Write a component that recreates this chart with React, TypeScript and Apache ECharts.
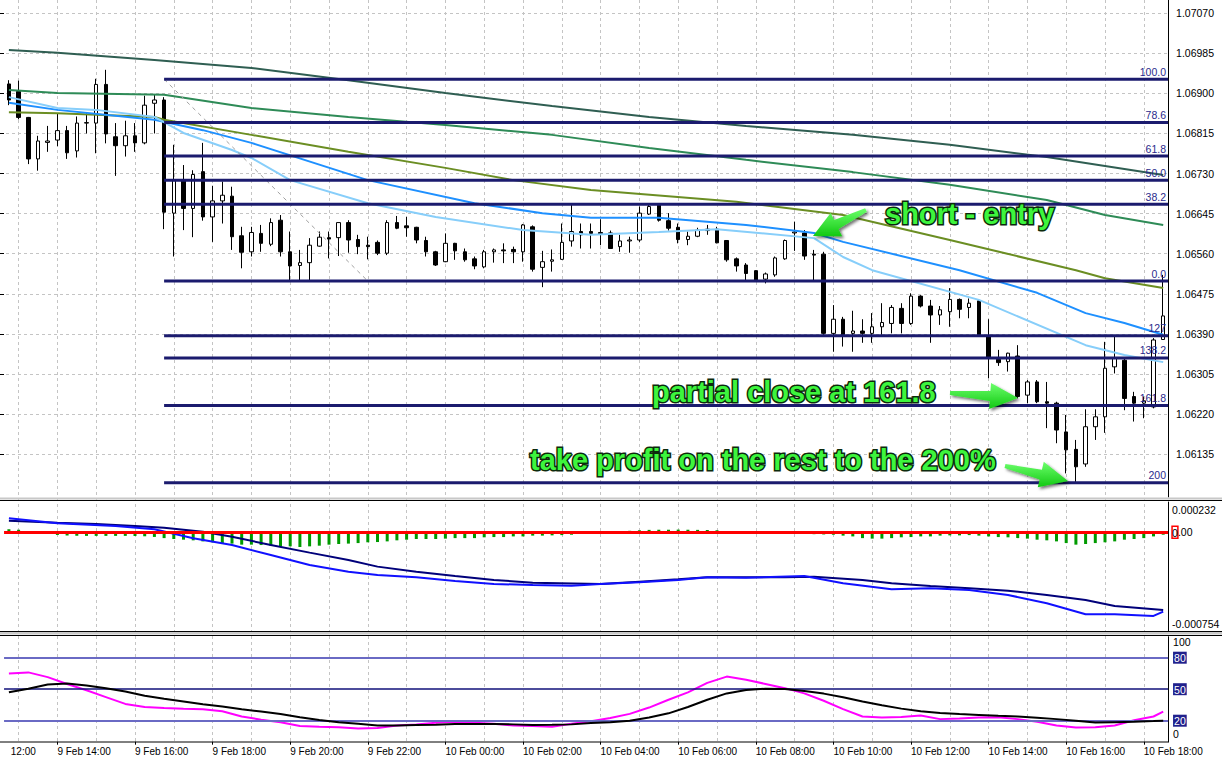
import React, { useEffect, useRef } from 'react';
import * as echarts from 'echarts';

// ---------- data (EURUSD-like M15, 9 Feb 12:45 – 10 Feb 18:30) ----------
const barTimes: string[] = (() => {
  const out: string[] = [];
  for (let i = 0; i < 120; i++) {
    const m = 12 * 60 + 45 + i * 15;
    const d = m >= 1440 ? 10 : 9;
    const mm = m % 1440;
    out.push(`${d} Feb ${String(Math.floor(mm / 60)).padStart(2, '0')}:${String(mm % 60).padStart(2, '0')}`);
  }
  return out;
})();

// [open, high, low, close]
const ohlc: number[][] = [
  [1.06920, 1.06928, 1.06875, 1.06886], [1.06904, 1.06927, 1.06845, 1.06849], [1.06849, 1.06850, 1.06750, 1.06761],
  [1.06761, 1.06810, 1.06736, 1.06799], [1.06796, 1.06831, 1.06776, 1.06799], [1.06801, 1.06858, 1.06788, 1.06821],
  [1.06821, 1.06831, 1.06761, 1.06774], [1.06778, 1.06851, 1.06764, 1.06837], [1.06837, 1.06858, 1.06815, 1.06838],
  [1.06837, 1.06931, 1.06773, 1.06919], [1.06919, 1.06950, 1.06794, 1.06814], [1.06808, 1.06837, 1.06725, 1.06789],
  [1.06789, 1.06842, 1.06766, 1.06810], [1.06810, 1.06837, 1.06776, 1.06795], [1.06795, 1.06895, 1.06792, 1.06875],
  [1.06879, 1.06898, 1.06815, 1.06886], [1.06886, 1.06892, 1.06612, 1.06648], [1.06646, 1.06791, 1.06554, 1.06715],
  [1.06715, 1.06748, 1.06610, 1.06656], [1.06656, 1.06737, 1.06595, 1.06728], [1.06734, 1.06795, 1.06630, 1.06638],
  [1.06638, 1.06704, 1.06585, 1.06672], [1.06672, 1.06713, 1.06624, 1.06684], [1.06682, 1.06702, 1.06568, 1.06596],
  [1.06598, 1.06617, 1.06529, 1.06563], [1.06564, 1.06617, 1.06554, 1.06605], [1.06603, 1.06621, 1.06564, 1.06582],
  [1.06580, 1.06635, 1.06576, 1.06626], [1.06631, 1.06642, 1.06554, 1.06564], [1.06564, 1.06607, 1.06504, 1.06534],
  [1.06535, 1.06568, 1.06504, 1.06541], [1.06541, 1.06593, 1.06504, 1.06578], [1.06576, 1.06607, 1.06575, 1.06595],
  [1.06594, 1.06607, 1.06550, 1.06591], [1.06594, 1.06626, 1.06555, 1.06626], [1.06626, 1.06631, 1.06562, 1.06589],
  [1.06590, 1.06600, 1.06559, 1.06575], [1.06578, 1.06596, 1.06548, 1.06575], [1.06584, 1.06588, 1.06557, 1.06561],
  [1.06561, 1.06631, 1.06557, 1.06626], [1.06626, 1.06640, 1.06612, 1.06614], [1.06619, 1.06638, 1.06596, 1.06615],
  [1.06616, 1.06617, 1.06582, 1.06589], [1.06588, 1.06596, 1.06554, 1.06564], [1.06564, 1.06566, 1.06534, 1.06536],
  [1.06543, 1.06603, 1.06542, 1.06582], [1.06582, 1.06583, 1.06547, 1.06566], [1.06564, 1.06571, 1.06543, 1.06547],
  [1.06549, 1.06554, 1.06527, 1.06534], [1.06532, 1.06568, 1.06529, 1.06564], [1.06564, 1.06571, 1.06541, 1.06568],
  [1.06568, 1.06582, 1.06540, 1.06566], [1.06569, 1.06575, 1.06540, 1.06564], [1.06564, 1.06623, 1.06543, 1.06621],
  [1.06617, 1.06620, 1.06522, 1.06527], [1.06531, 1.06566, 1.06489, 1.06543], [1.06544, 1.06569, 1.06522, 1.06547],
  [1.06548, 1.06624, 1.06547, 1.06584], [1.06587, 1.06667, 1.06575, 1.06607], [1.06607, 1.06624, 1.06571, 1.06600],
  [1.06607, 1.06624, 1.06571, 1.06603], [1.06605, 1.06633, 1.06578, 1.06602], [1.06604, 1.06609, 1.06570, 1.06571],
  [1.06575, 1.06600, 1.06564, 1.06587], [1.06587, 1.06596, 1.06562, 1.06589], [1.06589, 1.06660, 1.06585, 1.06646],
  [1.06644, 1.06667, 1.06642, 1.06660], [1.06663, 1.06665, 1.06628, 1.06631], [1.06630, 1.06646, 1.06609, 1.06614],
  [1.06616, 1.06624, 1.06582, 1.06590], [1.06590, 1.06607, 1.06578, 1.06597], [1.06597, 1.06615, 1.06595, 1.06610],
  [1.06609, 1.06621, 1.06600, 1.06612], [1.06612, 1.06617, 1.06582, 1.06583], [1.06588, 1.06589, 1.06543, 1.06547],
  [1.06549, 1.06552, 1.06522, 1.06534], [1.06536, 1.06540, 1.06504, 1.06518], [1.06524, 1.06525, 1.06502, 1.06504],
  [1.06506, 1.06520, 1.06497, 1.06517], [1.06515, 1.06554, 1.06511, 1.06551], [1.06549, 1.06590, 1.06547, 1.06588],
  [1.06604, 1.06628, 1.06566, 1.06606], [1.06604, 1.06610, 1.06547, 1.06555], [1.06559, 1.06568, 1.06504, 1.06557],
  [1.06559, 1.06564, 1.06388, 1.06391], [1.06391, 1.06451, 1.06352, 1.06421], [1.06421, 1.06426, 1.06363, 1.06388],
  [1.06391, 1.06439, 1.06352, 1.06396], [1.06396, 1.06421, 1.06371, 1.06391], [1.06391, 1.06434, 1.06371, 1.06405],
  [1.06405, 1.06455, 1.06388, 1.06414], [1.06412, 1.06451, 1.06391, 1.06446], [1.06444, 1.06455, 1.06391, 1.06412],
  [1.06412, 1.06476, 1.06409, 1.06470], [1.06470, 1.06472, 1.06446, 1.06449], [1.06449, 1.06462, 1.06371, 1.06430],
  [1.06430, 1.06449, 1.06409, 1.06441], [1.06437, 1.06487, 1.06405, 1.06463], [1.06463, 1.06465, 1.06423, 1.06442],
  [1.06446, 1.06465, 1.06423, 1.06455], [1.06460, 1.06463, 1.06385, 1.06388], [1.06385, 1.06421, 1.06296, 1.06340],
  [1.06336, 1.06356, 1.06322, 1.06329], [1.06331, 1.06350, 1.06310, 1.06349], [1.06343, 1.06366, 1.06253, 1.06257],
  [1.06260, 1.06292, 1.06243, 1.06288], [1.06288, 1.06292, 1.06243, 1.06246], [1.06246, 1.06288, 1.06190, 1.06243],
  [1.06243, 1.06246, 1.06158, 1.06186], [1.06182, 1.06218, 1.06094, 1.06144], [1.06145, 1.06165, 1.06076, 1.06108],
  [1.06114, 1.06230, 1.06108, 1.06193], [1.06193, 1.06230, 1.06165, 1.06214], [1.06214, 1.06373, 1.06180, 1.06317],
  [1.06320, 1.06384, 1.06306, 1.06338], [1.06334, 1.06339, 1.06228, 1.06253], [1.06257, 1.06267, 1.06204, 1.06243],
  [1.06243, 1.06257, 1.06211, 1.06248], [1.06235, 1.06381, 1.06232, 1.06377], [1.06378, 1.06515, 1.06377, 1.06428],
];

// moving averages: [bar index, price]
const maSlate = [[0, 1.06992], [5, 1.06986], [15, 1.06971], [25, 1.06954], [35, 1.06928], [45, 1.06901], [56, 1.06873], [66, 1.0685], [76, 1.06831], [87, 1.06812], [97, 1.06791], [107, 1.06765], [113, 1.06746], [119, 1.06727]];
const maSea = [[0, 1.06907], [5, 1.06901], [16, 1.06897], [25, 1.06869], [35, 1.0685], [45, 1.06833], [56, 1.06812], [66, 1.06784], [76, 1.06759], [87, 1.06733], [97, 1.06706], [107, 1.06674], [113, 1.06642], [119, 1.06621]];
const maOlive = [[0, 1.0686], [5, 1.06858], [15, 1.0685], [16, 1.06844], [25, 1.06812], [35, 1.06776], [45, 1.06742], [52, 1.06716], [60, 1.06695], [75, 1.0667], [86, 1.06642], [97, 1.06589], [110, 1.06525], [113, 1.06508], [119, 1.06487]];
const maBlue = [[0, 1.0688], [5, 1.06865], [15, 1.06844], [20, 1.06822], [25, 1.06795], [37, 1.06716], [48, 1.06667], [55, 1.06646], [60, 1.06636], [67, 1.06636], [76, 1.06621], [83, 1.06604], [86, 1.06585], [98, 1.06525], [106, 1.06477], [111, 1.06434], [115, 1.06413], [119, 1.06388]];
const maSky = [[0, 1.06892], [5, 1.06869], [9, 1.06865], [15, 1.0685], [18, 1.06816], [23, 1.0678], [25, 1.06763], [29, 1.06716], [37, 1.06667], [44, 1.06638], [53, 1.0661], [60, 1.066], [67, 1.06606], [73, 1.06612], [83, 1.06593], [86, 1.06553], [89, 1.06525], [100, 1.06462], [111, 1.06366], [115, 1.06345], [119, 1.0633]];

// fibonacci object
const fibLabels = ['100.0', '78.6', '61.8', '50.0', '38.2', '0.0', '127', '138.2', '161.8', '200'];
const fibPrices = [1.0693, 1.06838, 1.06767, 1.06716, 1.06665, 1.06502, 1.06386, 1.06339, 1.06238, 1.06074];
const fibFromHour = 16.75;
const fibToHour = 42.625;
const fibTrend = [[16.75, 1.0693], [22.0, 1.06502]];
const bidTag = 1.06049;

// MACD panel
const macdMain = [[0, 0.000107], [5, 0.000069], [11, 0.000049], [15, 0.000023], [19, -0.000045], [23, -0.000097], [27, -0.000173], [31, -0.00025], [35, -0.000301], [38, -0.000326], [42, -0.000344], [46, -0.000372], [50, -0.000395], [54, -0.000402], [58, -0.000408], [61, -0.000395], [65, -0.000382], [69, -0.000364], [72, -0.000344], [76, -0.000347], [82, -0.000334], [86, -0.000389], [91, -0.000435], [95, -0.000428], [99, -0.000441], [103, -0.000479], [107, -0.000542], [111, -0.000626], [114, -0.000626], [118, -0.000639], [119, -0.000606]];
const macdSignal = [[0, 0.000089], [5, 0.000074], [9, 0.000064], [13, 0.000049], [16, 0.000036], [20, 0.000005], [23, -0.000033], [27, -0.000097], [31, -0.000155], [35, -0.000211], [38, -0.000262], [42, -0.000301], [46, -0.000334], [50, -0.000364], [54, -0.000385], [61, -0.000395], [65, -0.000377], [69, -0.000359], [72, -0.000344], [76, -0.000344], [80, -0.000344], [83, -0.000339], [88, -0.000364], [91, -0.000389], [95, -0.00041], [99, -0.000428], [103, -0.000446], [107, -0.000479], [111, -0.000517], [114, -0.000563], [119, -0.000593]];
const macdHist = [
  23e-6, 20e-6, 8e-6, 3e-6, -5e-6, -20e-6, -24e-6, -26e-6, -27e-6, -27e-6,
  -27e-6, -27e-6, -27e-6, -28e-6, -30e-6, -35e-6, -44e-6, -51e-6, -56e-6, -61e-6,
  -69e-6, -76e-6, -82e-6, -86e-6, -94e-6, -94e-6, -97e-6, -102e-6, -107e-6, -107e-6,
  -112e-6, -107e-6, -102e-6, -94e-6, -89e-6, -86e-6, -82e-6, -76e-6, -74e-6, -69e-6,
  -61e-6, -56e-6, -51e-6, -51e-6, -51e-6, -48e-6, -44e-6, -44e-6, -44e-6, -38e-6,
  -36e-6, -36e-6, -31e-6, -31e-6, -25e-6, -25e-6, -23e-6, -21e-6, -18e-6, -10e-6,
  -5e-6, 0, 4e-6, 8e-6, 12e-6, 16e-6, 19e-6, 20e-6, 20e-6, 21e-6,
  20e-6, 19e-6, 18e-6, 16e-6, 8e-6, 5e-6, 3e-6, 0, -3e-6, -5e-6,
  -8e-6, -10e-6, -12e-6, -14e-6, -16e-6, -18e-6, -25e-6, -31e-6, -44e-6, -48e-6,
  -48e-6, -44e-6, -38e-6, -36e-6, -31e-6, -31e-6, -25e-6, -23e-6, -23e-6, -21e-6,
  -25e-6, -31e-6, -36e-6, -38e-6, -44e-6, -48e-6, -56e-6, -61e-6, -69e-6, -82e-6,
  -94e-6, -89e-6, -82e-6, -76e-6, -69e-6, -56e-6, -51e-6, -44e-6, -31e-6, -18e-6,
];
const macdMax = 0.000232;
const macdMin = -0.000754;

// Stochastic panel: values at bars 0,2,4,...,118 and 119
const stochK = [65, 66, 61.5, 55, 49, 42.5, 36, 33, 32, 31.4, 31, 29, 24, 21, 18.5, 15, 14.3, 13.8, 12.5, 13, 15.5, 16.3, 18, 19, 18, 17, 15.5, 15, 14.3, 17, 19.5, 22.5, 26.5, 32.5, 40, 47, 56, 62, 59, 55, 51, 46, 39, 31, 24, 23, 23.5, 25, 21.5, 22, 23, 23.2, 21.5, 19, 15.5, 13.6, 13.8, 15.5, 20.5, 24, 28.6];
const stochD = [47, 50.5, 54.5, 55.5, 53.5, 51, 47.8, 43.8, 40.8, 38.3, 35.7, 33.5, 31, 28.7, 26.3, 23.2, 20.6, 18.5, 17, 15.5, 15.4, 15.8, 16.2, 16.8, 16.8, 16.8, 16.5, 16, 16.2, 16.5, 17.8, 18.5, 20, 23, 27, 33, 40, 46, 49.2, 50.5, 50.3, 48.2, 45.8, 42.3, 38.2, 34.8, 31.5, 29, 27.3, 26.3, 25.5, 24.7, 24, 22.8, 21.5, 20, 18.2, 18.6, 19, 19.6, 20];
const stochLevels = [80, 50, 20];

// price scale ticks
const priceTickMin = 1.06135;
const priceTickMax = 1.0707;
const priceTickStep = 0.00085;

// ---------- layout ----------
const PLOT_LEFT = 4.05;
const PLOT_W = 1164;
const MAIN_TOP = 0, MAIN_H = 497;
const MAIN_YMIN = 1.0604396, MAIN_YMAX = 1.0709804;
const MACD_TOP = 502, MACD_H = 129;
const STO_TOP = 636.7, STO_H = 105;

const pad2 = (n: number) => String(n).padStart(2, '0');
const stochPairs = (vals: number[]) => vals.map((v, k) => [Math.min(k * 2, 119), v]);

function arrowPoints(tx: number, ty: number, px: number, py: number, w0: number, w1: number, wh: number, hl: number) {
  const dx = px - tx, dy = py - ty;
  const len = Math.hypot(dx, dy);
  const ux = dx / len, uy = dy / len;
  const nx = -uy, ny = ux;
  const bx = px - ux * hl, by = py - uy * hl;
  return [
    [tx + nx * w0, ty + ny * w0],
    [bx + nx * w1, by + ny * w1],
    [bx + nx * wh, by + ny * wh],
    [px, py],
    [bx - nx * wh, by - ny * wh],
    [bx - nx * w1, by - ny * w1],
    [tx - nx * w0, ty - ny * w0],
  ];
}

const gridDash = { color: '#c4c4c4', type: [3, 3] as number[], width: 1 };
const FONT = 'Liberation Sans';

export default function App() {
  const ref = useRef<HTMLDivElement>(null);
  useEffect(() => {
    if (!ref.current) return;
    const chart = echarts.init(ref.current, null, { renderer: 'svg' });

    const maSeries = [
      { d: maSlate, c: '#2f5e52' },
      { d: maSea, c: '#2e8b57' },
      { d: maOlive, c: '#6b8e23' },
      { d: maBlue, c: '#1e90ff' },
      { d: maSky, c: '#87cefa' },
    ].map((m) => ({
      type: 'line', xAxisIndex: 0, yAxisIndex: 0, data: m.d, showSymbol: false, symbol: 'none', silent: true, z: 3,
      lineStyle: { color: m.c, width: 2 },
    }));

    const fibSeries = fibPrices.map((p, k) => ({
      type: 'line', xAxisIndex: 1, yAxisIndex: 0, symbol: 'none', silent: true, z: 5,
      lineStyle: { color: '#1b1b6e', width: 3 },
      data: [[fibFromHour, p], [fibToHour, p]],
      markPoint: {
        symbol: 'circle', symbolSize: 0, silent: true,
        data: [{ coord: [fibToHour, p], value: fibLabels[k] }],
        label: {
          show: true, position: 'top', align: 'right', distance: 2, offset: [-2, 0],
          formatter: fibLabels[k], color: '#2a2a8c', fontSize: 10.5, fontFamily: FONT,
        },
      },
    }));

    const green = new echarts.graphic.LinearGradient(0, 0, 0, 1, [
      { offset: 0, color: '#6bff6b' },
      { offset: 1, color: '#12c812' },
    ]);
    const arrowStyle = { fill: green, shadowBlur: 3, shadowColor: 'rgba(0,0,0,0.55)', shadowOffsetX: 2, shadowOffsetY: 2 };
    const textStyle = (text: string) => ({
      text, fill: '#3df53d', stroke: '#0c2a0c', lineWidth: 3,
      font: `bold 29px "${FONT}"`, verticalAlign: 'middle', textVerticalAlign: 'middle',
      shadowBlur: 4, shadowColor: 'rgba(0,0,0,0.5)', shadowOffsetX: 2, shadowOffsetY: 2,
    });

    const option: any = {
      animation: false,
      backgroundColor: '#ffffff',
      textStyle: { fontFamily: FONT },
      grid: [
        { left: PLOT_LEFT, top: MAIN_TOP, width: PLOT_W, height: MAIN_H, outerBoundsMode: 'none', containLabel: false },
        { left: PLOT_LEFT, top: MACD_TOP, width: PLOT_W, height: MACD_H, outerBoundsMode: 'none', containLabel: false },
        { left: PLOT_LEFT, top: STO_TOP, width: PLOT_W, height: STO_H, outerBoundsMode: 'none', containLabel: false },
        { left: -20.2, top: 0, width: 1164, height: STO_TOP + STO_H, outerBoundsMode: 'none', containLabel: false },
        { left: 0, top: 13.22, width: PLOT_LEFT + PLOT_W, height: 440.86, outerBoundsMode: 'none', containLabel: false },
      ],
      xAxis: [
        { type: 'category', gridIndex: 0, data: barTimes, boundaryGap: true, show: false },
        { type: 'value', gridIndex: 0, min: 12.625, max: 42.625, show: false },
        { type: 'category', gridIndex: 1, data: barTimes, boundaryGap: true, show: false },
        { type: 'category', gridIndex: 2, data: barTimes, boundaryGap: true, show: false },
        {
          type: 'value', gridIndex: 3, min: 12, max: 42, interval: 2, position: 'bottom',
          axisLine: { show: false },
          axisTick: { show: true, length: 3, lineStyle: { color: '#000' } },
          minorTick: { show: false, splitNumber: 2 },
          splitLine: { show: true, lineStyle: gridDash },
          minorSplitLine: { show: true, lineStyle: gridDash },
          axisLabel: {
            show: true, align: 'left', margin: 5, fontSize: 10, color: '#000', fontFamily: FONT,
            showMinLabel: true, showMaxLabel: true,
            formatter: (v: number) => {
              const h = Math.round(v);
              if (h === 12) return '{f|12:00}';
              const d = h >= 24 ? 10 : 9;
              return `${d} Feb ${pad2(h % 24)}:00`;
            },
            rich: { f: { padding: [0, 0, 0, 31], fontSize: 10, fontFamily: FONT, color: '#000' } },
          },
        },
        { type: 'value', gridIndex: 4, min: 0, max: 1, show: false },
      ],
      yAxis: [
        {
          type: 'value', gridIndex: 0, min: MAIN_YMIN, max: MAIN_YMAX, position: 'right', scale: true,
          axisLine: { show: true, lineStyle: { color: '#000', width: 1 } },
          axisTick: { show: false }, axisLabel: { show: false }, splitLine: { show: false },
        },
        {
          type: 'value', gridIndex: 1, min: macdMin, max: macdMax, interval: -macdMin, position: 'right',
          axisLine: { show: true, lineStyle: { color: '#000', width: 1 } },
          axisTick: { show: false }, splitLine: { show: false },
          axisLabel: {
            show: true, margin: 4, fontSize: 10.5, color: '#000', fontFamily: FONT,
            formatter: (v: number) => (v > 0.0001 ? '{t|0.000232}' : v < -0.0001 ? '{b|-0.000754}' : '{z|0}.00'),
            rich: {
              t: { padding: [16, 0, 0, 0], fontSize: 10.5, fontFamily: FONT, color: '#000' },
              b: { padding: [0, 0, 15, 0], fontSize: 10.5, fontFamily: FONT, color: '#000' },
              z: { borderColor: '#ff0000', borderWidth: 1.5, padding: [1, 0, 0, 0], fontSize: 10.5, fontFamily: FONT, color: '#000' },
            },
          },
        },
        {
          type: 'value', gridIndex: 2, min: 0, max: 100, interval: 10, position: 'right',
          axisLine: { show: true, lineStyle: { color: '#000', width: 1 } },
          axisTick: { show: false }, splitLine: { show: false },
          axisLabel: {
            show: true, margin: 5, fontSize: 10.5, color: '#000', fontFamily: FONT,
            formatter: (v: number) => {
              const r = Math.round(v);
              if (r === 100) return '{t|100}';
              if (r === 0) return '{b|0}';
              if (stochLevels.includes(r)) return `{bx|${r}}`;
              return '';
            },
            rich: {
              t: { padding: [11, 0, 0, 0], fontSize: 10.5, fontFamily: FONT, color: '#000' },
              b: { padding: [0, 0, 15, 0], fontSize: 10.5, fontFamily: FONT, color: '#000' },
              bx: { backgroundColor: '#20208c', color: '#ffffff', padding: [1, 1, 0, 1], fontSize: 10.5, fontFamily: FONT },
            },
          },
        },
        { type: 'value', gridIndex: 3, min: 0, max: 1, show: false },
        {
          type: 'value', gridIndex: 4, min: priceTickMin, max: priceTickMax, interval: priceTickStep, position: 'right',
          axisLine: { show: false },
          axisTick: { show: true, length: 4, lineStyle: { color: '#000' } },
          splitLine: { show: true, lineStyle: gridDash },
          axisLabel: { show: true, margin: 8, fontSize: 10.5, color: '#000', fontFamily: FONT, formatter: (v: number) => v.toFixed(5) },
        },
      ],
      series: [
        {
          type: 'candlestick', xAxisIndex: 0, yAxisIndex: 0, z: 2, silent: true,
          data: ohlc.map(([o, h, l, c]) => [o, c, l, h]),
          barWidth: 4,
          itemStyle: { color: '#ffffff', color0: '#000000', borderColor: '#000000', borderColor0: '#000000', borderWidth: 1 },
          markLine: {
            symbol: 'none', silent: true,
            lineStyle: { opacity: 0 },
            label: {
              show: true, position: 'end', distance: 2, formatter: bidTag.toFixed(5),
              backgroundColor: '#000', color: '#fff', padding: [2, 3, 1, 3], fontSize: 10.5, fontFamily: FONT,
            },
            data: [{ yAxis: bidTag }],
          },
        },
        ...maSeries,
        ...fibSeries,
        {
          type: 'line', xAxisIndex: 1, yAxisIndex: 0, symbol: 'none', silent: true, z: 4,
          lineStyle: { color: '#a0a0a0', width: 1, type: [4, 4] },
          data: fibTrend,
        },
        {
          type: 'bar', xAxisIndex: 2, yAxisIndex: 1, data: macdHist, barWidth: 3, silent: true, z: 2,
          itemStyle: { color: '#009a00' },
          markLine: {
            symbol: 'none', silent: true, label: { show: false },
            lineStyle: { color: '#ff0000', width: 3, type: 'solid' },
            data: [{ yAxis: 0 }],
          },
        },
        {
          type: 'line', xAxisIndex: 2, yAxisIndex: 1, data: macdSignal, symbol: 'none', silent: true, z: 4,
          lineStyle: { color: '#00007a', width: 2 },
        },
        {
          type: 'line', xAxisIndex: 2, yAxisIndex: 1, data: macdMain, symbol: 'none', silent: true, z: 4,
          lineStyle: { color: '#1010ff', width: 2 },
        },
        {
          type: 'line', xAxisIndex: 3, yAxisIndex: 2, data: stochPairs(stochK), symbol: 'none', silent: true, z: 4,
          lineStyle: { color: '#ff00ff', width: 2 },
          markLine: {
            symbol: 'none', silent: true, label: { show: false },
            data: [
              { yAxis: stochLevels[0], lineStyle: { color: '#6a6ac4', width: 2, type: 'solid' } },
              { yAxis: stochLevels[1], lineStyle: { color: '#10107a', width: 1.5, type: 'solid' } },
              { yAxis: stochLevels[2], lineStyle: { color: '#6a6ac4', width: 2, type: 'solid' } },
            ],
          },
        },
        {
          type: 'line', xAxisIndex: 3, yAxisIndex: 2, data: stochPairs(stochD), symbol: 'none', silent: true, z: 5,
          lineStyle: { color: '#000000', width: 2 },
        },
      ],
      graphic: [
        // panel separators
        { type: 'rect', z: 100, silent: true, shape: { x: 0, y: 497.5, width: 1222, height: 2 }, style: { fill: '#c8c8c8' } },
        { type: 'line', z: 100, silent: true, shape: { x1: 0, y1: 500.5, x2: 1222, y2: 500.5 }, style: { stroke: '#000', lineWidth: 1 } },
        { type: 'line', z: 100, silent: true, shape: { x1: 0, y1: 631.5, x2: 1222, y2: 631.5 }, style: { stroke: '#000', lineWidth: 1 } },
        { type: 'rect', z: 100, silent: true, shape: { x: 0, y: 632, width: 1222, height: 2.5 }, style: { fill: '#c8c8c8' } },
        { type: 'line', z: 100, silent: true, shape: { x1: 0, y1: 635.5, x2: 1222, y2: 635.5 }, style: { stroke: '#000', lineWidth: 1 } },
        { type: 'line', z: 100, silent: true, shape: { x1: 0, y1: 742, x2: 1169, y2: 742 }, style: { stroke: '#000', lineWidth: 1 } },
        // annotation arrows
        { type: 'polygon', z: 101, silent: true, shape: { points: arrowPoints(866, 210, 813, 236, 2, 5, 13, 26) }, style: arrowStyle },
        { type: 'polygon', z: 101, silent: true, shape: { points: arrowPoints(950, 393, 1018, 398, 2, 5, 13, 28) }, style: arrowStyle },
        { type: 'polygon', z: 101, silent: true, shape: { points: arrowPoints(1005, 466, 1068, 481, 2, 5, 13, 28) }, style: arrowStyle },
        // annotation texts
        { type: 'text', z: 102, silent: true, x: 885, y: 214, style: textStyle('short - entry') },
        { type: 'text', z: 102, silent: true, x: 652, y: 392, style: textStyle('partial close at 161.8') },
        { type: 'text', z: 102, silent: true, x: 530, y: 460, style: textStyle('take profit on the rest to the 200%') },
      ],
    };

    chart.setOption(option);
    return () => chart.dispose();
  }, []);

  return <div ref={ref} style={{ position: 'absolute', left: 0, top: 0, width: 1222, height: 760 }} />;
}
